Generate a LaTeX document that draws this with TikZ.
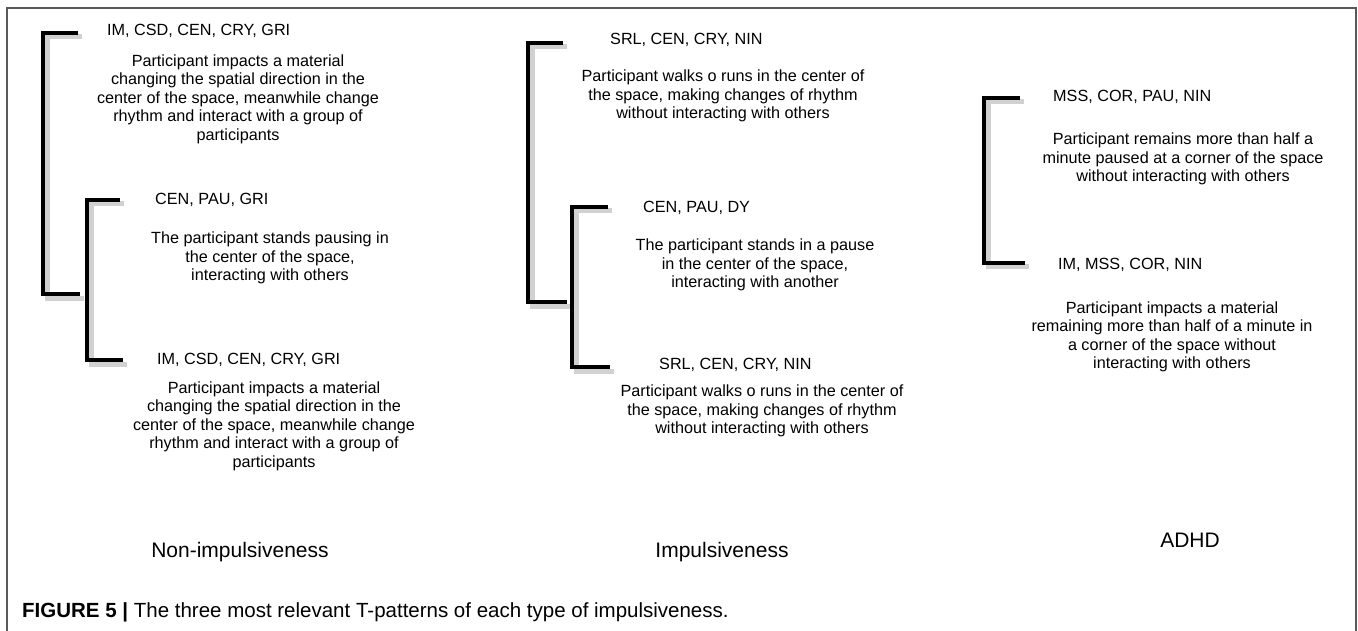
\documentclass[tikz,border=0pt]{standalone}
\usepackage{fontspec}
\setmainfont{Liberation Sans}
\begin{document}
\begin{tikzpicture}[x=1pt,y=-1pt,
  code/.style={anchor=west,inner sep=0pt,font=\fontsize{16.2}{18}\selectfont},
  desc/.style={align=center,inner sep=0pt,font=\fontsize{16.2}{18.5}\selectfont},
  group/.style={inner sep=0pt,font=\fontsize{21}{24}\selectfont},
  brk/.style={line width=3.5pt,preaction={draw,black!18,line width=5pt,transform canvas={shift={(4pt,-4pt)}}}}]
\useasboundingbox (0,0) rectangle (1358,631);
\draw[black!65,line width=1.5pt] (7,631) -- (7,8) -- (1356,8) -- (1356,631);
% Non-impulsiveness
\node (c1a) at (107,31) [code] {IM, CSD, CEN, CRY, GRI};
\node (d1a) at (238,99) [desc] {Participant impacts a material\\changing the spatial direction in the\\center of the space, meanwhile change\\rhythm and interact with a group of\\participants};
\node (c1b) at (155,200) [code] {CEN, PAU, GRI};
\node (d1b) at (270,258) [desc] {The participant stands pausing in\\the center of the space,\\interacting with others};
\node (c1c) at (157,360) [code] {IM, CSD, CEN, CRY, GRI};
\node (d1c) at (274,426) [desc] {Participant impacts a material\\changing the spatial direction in the\\center of the space, meanwhile change\\rhythm and interact with a group of\\participants};
\node (t1) at (240,552) [group] {Non-impulsiveness};
\coordinate (b1a) at (78,33);
\coordinate (b1b) at (80,294);
\coordinate (b1c) at (120,200);
\coordinate (b1d) at (123,360);
\draw[brk] (b1a) -- ++(-35,0) |- (b1b);
\draw[brk] (b1c) -- ++(-33,0) |- (b1d);
% Impulsiveness
\node (c2a) at (610,40) [code] {SRL, CEN, CRY, NIN};
\node (d2a) at (723,96) [desc] {Participant walks o runs in the center of\\the space, making changes of rhythm\\without interacting with others};
\node (c2b) at (643,208) [code] {CEN, PAU, DY};
\node (d2b) at (755,265) [desc] {The participant stands in a pause\\in the center of the space,\\interacting with another};
\node (c2c) at (659,365) [code] {SRL, CEN, CRY, NIN};
\node (d2c) at (762,411) [desc] {Participant walks o runs in the center of\\the space, making changes of rhythm\\without interacting with others};
\node (t2) at (722,552) [group] {Impulsiveness};
\coordinate (b2a) at (563,43);
\coordinate (b2b) at (567,302);
\coordinate (b2c) at (608,207);
\coordinate (b2d) at (610,367);
\draw[brk] (b2a) -- ++(-35,0) |- (b2b);
\draw[brk] (b2c) -- ++(-36,0) |- (b2d);
% ADHD
\node (c3a) at (1053,97) [code] {MSS, COR, PAU, NIN};
\node (d3a) at (1183,159) [desc] {Participant remains more than half a\\minute paused at a corner of the space\\without interacting with others};
\node (c3b) at (1058,265) [code] {IM, MSS, COR, NIN};
\node (d3b) at (1172,337) [desc] {Participant impacts a material\\remaining more than half of a minute in\\a corner of the space without\\interacting with others};
\node (t3) at (1190,540) [group] {ADHD};
\coordinate (b3a) at (1020,98);
\coordinate (b3b) at (1025,263);
\draw[brk] (b3a) -- ++(-36,0) |- (b3b);
% caption
\node (cap) at (22,612) [anchor=west,inner sep=0pt,font=\fontsize{20.5}{24}\selectfont] {\textbf{FIGURE 5 |} The three most relevant T-patterns of each type of impulsiveness.};
\end{tikzpicture}
\end{document}
